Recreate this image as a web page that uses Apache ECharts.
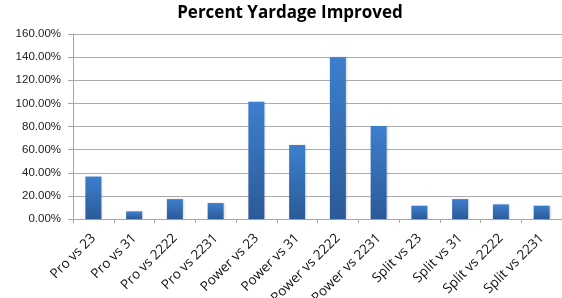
<!DOCTYPE html>
<html>
<head>
<meta charset="utf-8">
<title>Percent Yardage Improved</title>
<script src="https://cdn.jsdelivr.net/npm/echarts@6/dist/echarts.min.js"></script>
<style>
  html, body { margin: 0; padding: 0; background: #fff; }
  #main { width: 562px; height: 298px; }
</style>
</head>
<body>
<div id="main"></div>
<script type="text/javascript">
var categories = ['Pro vs 23', 'Pro vs 31', 'Pro vs 2222', 'Pro vs 2231',
  'Power vs 23', 'Power vs 31', 'Power vs 2222', 'Power vs 2231',
  'Split vs 23', 'Split vs 31', 'Split vs 2222', 'Split vs 2231'];
// percent values
var improved = [36.7, 6.6, 17.2, 13.8, 101.4, 64.1, 140.0, 80.4, 11.5, 17.2, 12.6, 11.5];

var myChart = echarts.init(document.getElementById('main'));

var option = {
  backgroundColor: '#fff',
  animation: false,
  title: {
    text: 'Percent Yardage Improved',
    left: 285,
    top: 0,
    textAlign: 'center',
    textStyle: {
      fontFamily: 'Open Sans',
      fontWeight: 'bold',
      fontSize: 17,
      color: '#000'
    }
  },
  grid: {
    left: 73,
    right: 0,
    top: 34,
    bottom: 79,
    containLabel: false,
    outerBoundsMode: 'none'
  },
  xAxis: {
    type: 'category',
    data: categories,
    axisLine: { lineStyle: { color: '#a6a6a6' } },
    axisTick: { show: true, length: 4, lineStyle: { color: '#a6a6a6' } },
    axisLabel: {
      rotate: 45,
      interval: 0,
      margin: 17,
      fontFamily: 'Open Sans',
      fontSize: 13.5,
      color: '#111'
    }
  },
  yAxis: {
    type: 'value',
    min: 0,
    max: 160,
    interval: 20,
    axisLine: { show: true, lineStyle: { color: '#a6a6a6' } },
    axisTick: { show: true, length: 5, lineStyle: { color: '#a6a6a6' } },
    splitLine: { lineStyle: { color: '#acacac' } },
    axisLabel: {
      margin: 12,
      fontFamily: 'Liberation Sans',
      fontSize: 11.5,
      color: '#222',
      formatter: function (v) { return v.toFixed(2) + '%'; }
    }
  },
  series: [{
    type: 'bar',
    data: improved,
    barWidth: 16,
    itemStyle: {
      color: new echarts.graphic.LinearGradient(0, 0, 0, 1, [
        { offset: 0, color: '#3d7fce' },
        { offset: 1, color: '#2c5a98' }
      ]),
      shadowColor: 'rgba(0,0,0,0.15)',
      shadowBlur: 2,
      shadowOffsetX: 1
    }
  }]
};

myChart.setOption(option);
</script>
</body>
</html>
